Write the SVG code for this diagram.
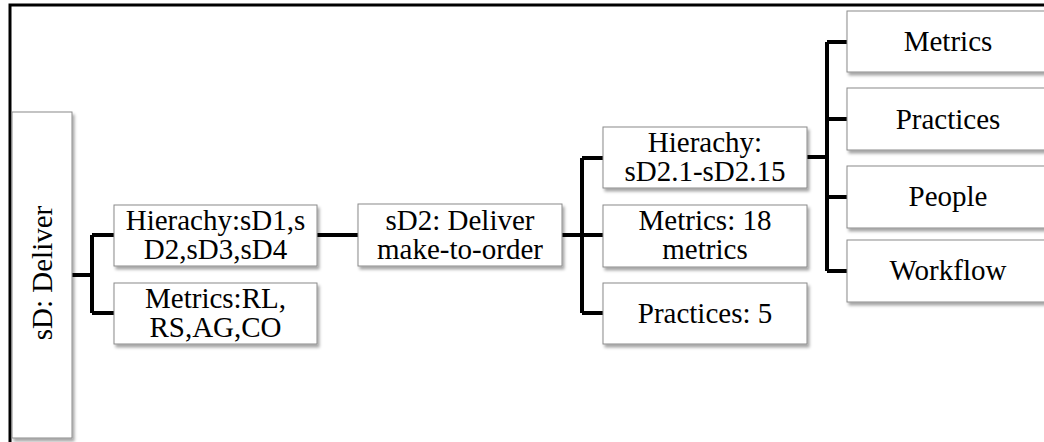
<svg xmlns="http://www.w3.org/2000/svg" width="1044" height="442" viewBox="0 0 1044 442">
  <style>
    .box { fill: #ffffff; stroke: #8a8a8a; stroke-width: 1; filter: url(#shadow); }
    .lbl { font-family: "Liberation Serif", "DejaVu Serif", serif; font-size: 29px; fill: #000; text-anchor: middle; }
    .wire { fill: none; stroke: #000; stroke-width: 4; stroke-linejoin: miter; stroke-linecap: butt; }
    .frame { fill: none; stroke: #000; stroke-width: 3; }
  </style>
  <defs>
    <filter id="shadow" x="-10%" y="-10%" width="130%" height="140%">
      <feDropShadow dx="2" dy="3" stdDeviation="1.8" flood-color="#000" flood-opacity="0.35"/>
    </filter>
  </defs>

  <rect width="1044" height="442" fill="#ffffff"/>
  <!-- outer frame -->
  <path class="frame" d="M10,445 V5 H1050"/>

  <!-- connectors -->
  <g id="connectors">
    <path class="wire" d="M72,275 H92 M92,235 V313 M92,235 H114 M92,313 H114"/>
    <path class="wire" d="M317,235 H358"/>
    <path class="wire" d="M562,235 H582 M582,158 V313 M582,158 H603 M582,235 H603 M582,313 H603"/>
    <path class="wire" d="M807,157 H827 M827,42 V271 M827,42 H847 M827,119 H847 M827,197 H847 M827,271 H847"/>
  </g>

  <g id="sD">
    <rect class="box" x="12" y="112" width="60" height="326"/>
    <text class="lbl" transform="translate(52,273) rotate(-90)">sD: Deliver</text>
  </g>

  <g id="hierarchy-sD">
    <rect class="box" x="114" y="205" width="203" height="61"/>
    <text class="lbl" x="215.5" y="230">Hierachy:sD1,s</text>
    <text class="lbl" x="215.5" y="259">D2,sD3,sD4</text>
  </g>

  <g id="metrics-sD">
    <rect class="box" x="114" y="283" width="203" height="61"/>
    <text class="lbl" x="215.5" y="308">Metrics:RL,</text>
    <text class="lbl" x="215.5" y="337">RS,AG,CO</text>
  </g>

  <g id="sD2">
    <rect class="box" x="358" y="204" width="204" height="62"/>
    <text class="lbl" x="460" y="230">sD2: Deliver</text>
    <text class="lbl" x="460" y="259">make-to-order</text>
  </g>

  <g id="hierarchy-sD2">
    <rect class="box" x="603" y="127" width="204" height="61"/>
    <text class="lbl" x="705" y="152">Hierachy:</text>
    <text class="lbl" x="705" y="181">sD2.1-sD2.15</text>
  </g>

  <g id="metrics-sD2">
    <rect class="box" x="603" y="205" width="204" height="62"/>
    <text class="lbl" x="705" y="230">Metrics: 18</text>
    <text class="lbl" x="705" y="259">metrics</text>
  </g>

  <g id="practices-sD2">
    <rect class="box" x="603" y="283" width="204" height="61"/>
    <text class="lbl" x="705" y="323">Practices: 5</text>
  </g>

  <g id="metrics">
    <rect class="box" x="847" y="11" width="204" height="61"/>
    <text class="lbl" x="948" y="51">Metrics</text>
  </g>

  <g id="practices">
    <rect class="box" x="847" y="88" width="204" height="62"/>
    <text class="lbl" x="948" y="129">Practices</text>
  </g>

  <g id="people">
    <rect class="box" x="847" y="166" width="204" height="62"/>
    <text class="lbl" x="948" y="206">People</text>
  </g>

  <g id="workflow">
    <rect class="box" x="847" y="240" width="204" height="62"/>
    <text class="lbl" x="948" y="280">Workflow</text>
  </g>
</svg>
